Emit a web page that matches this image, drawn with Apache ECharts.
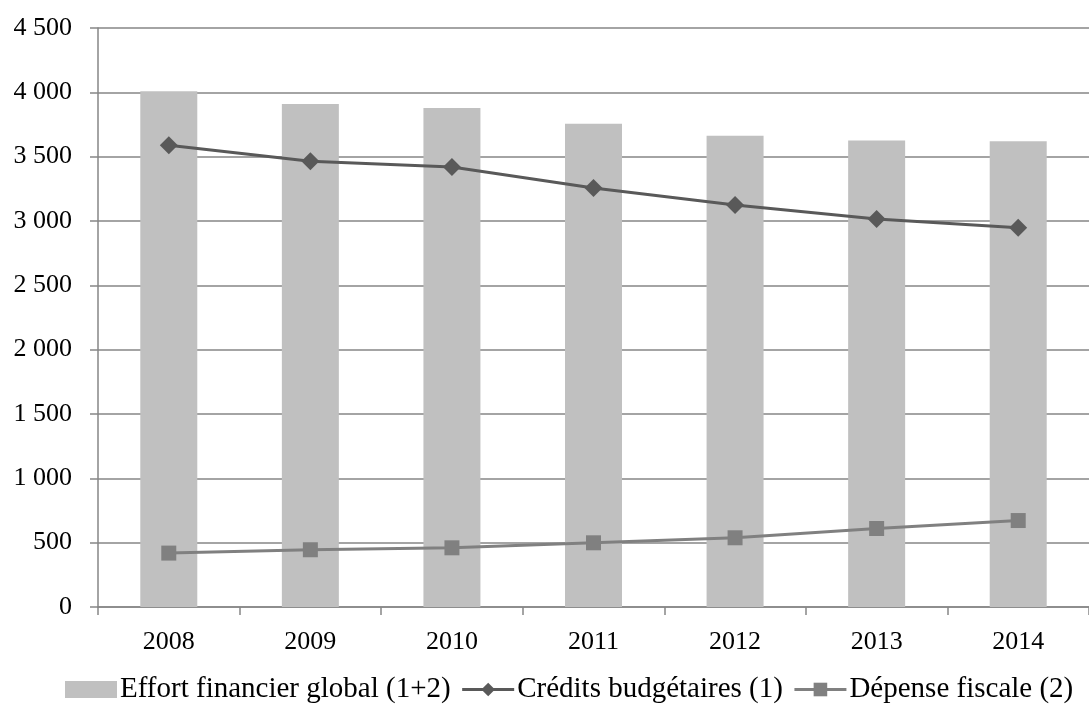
<!DOCTYPE html>
<html>
<head>
<meta charset="utf-8">
<script src="https://cdn.jsdelivr.net/npm/echarts@6/dist/echarts.min.js"></script>
<style>
    html, body { margin: 0; padding: 0; background: #fff; }
    #chart { width: 1089px; height: 713px; }
</style>
</head>
<body>
<div id="chart"></div>
<script>
// données (millions d'euros)
const years = ['2008', '2009', '2010', '2011', '2012', '2013', '2014']
const effortGlobal = [4008, 3910, 3879, 3755, 3662, 3625, 3619]
const creditsBudgetaires = [3589, 3465, 3419, 3256, 3124, 3015, 2947]
const depenseFiscale = [419, 445, 460, 499, 538, 610, 672]

const font = 'Liberation Serif, Times New Roman, serif'

// séparateur de milliers avec espace
function fmt(v) {
    return String(v).replace(/\B(?=(\d{3})+(?!\d))/g, ' ')
}

const chart = echarts.init(document.getElementById('chart'))
chart.setOption({
    animation: false,
    textStyle: { fontFamily: font, color: '#000' },
    grid: {
        left: 98,
        top: 28,
        width: 1002,
        height: 579
    },
    legend: {
        bottom: 4,
        left: 60,
        itemWidth: 52,
        itemHeight: 17,
        itemGap: 10,
        lineStyle: { width: 3 },
        textStyle: { fontFamily: font, fontSize: 29, color: '#000', padding: [0, 0, 0, -2] },
        data: [
            { name: 'Effort financier global (1+2)', icon: 'rect' },
            'Crédits budgétaires (1)',
            'Dépense fiscale (2)'
        ]
    },
    xAxis: {
        type: 'category',
        data: years,
        axisLine: { lineStyle: { color: '#868686', width: 1.5 } },
        axisTick: { show: true, length: 8, lineStyle: { color: '#868686', width: 1.5 } },
        axisLabel: { fontSize: 26, color: '#000', margin: 22 }
    },
    yAxis: {
        type: 'value',
        min: 0,
        max: 4500,
        interval: 500,
        axisLine: { show: true, lineStyle: { color: '#868686', width: 1.5 } },
        axisTick: { show: true, length: 8, lineStyle: { color: '#868686', width: 1.5 } },
        splitLine: { lineStyle: { color: '#868686', width: 1.5 } },
        axisLabel: {
            fontSize: 26,
            color: '#000',
            margin: 26,
            formatter: fmt
        }
    },
    series: [
        {
            name: 'Effort financier global (1+2)',
            type: 'bar',
            data: effortGlobal,
            barWidth: 57,
            itemStyle: { color: '#c0c0c0' }
        },
        {
            name: 'Crédits budgétaires (1)',
            type: 'line',
            data: creditsBudgetaires,
            symbol: 'diamond',
            symbolSize: 18,
            lineStyle: { color: '#595959', width: 3 },
            itemStyle: { color: '#595959' }
        },
        {
            name: 'Dépense fiscale (2)',
            type: 'line',
            data: depenseFiscale,
            symbol: 'rect',
            symbolSize: 15,
            lineStyle: { color: '#808080', width: 3 },
            itemStyle: { color: '#808080' }
        }
    ]
})
</script>
</body>
</html>
